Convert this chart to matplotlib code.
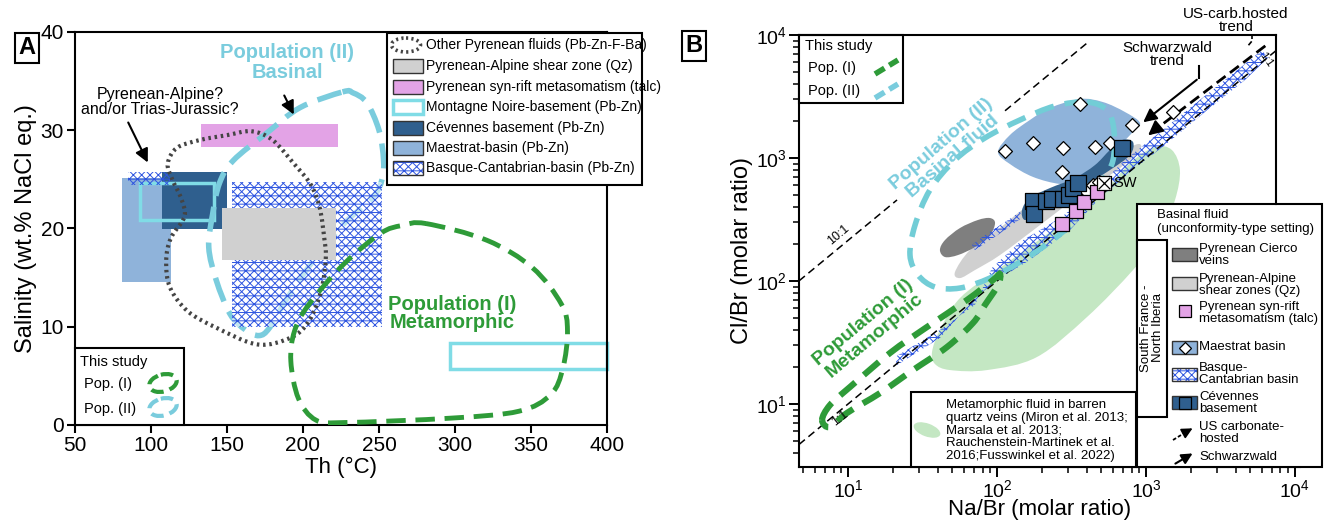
import numpy as np
import matplotlib
matplotlib.use("Agg")
import matplotlib.pyplot as plt
from matplotlib.path import Path
from matplotlib.patches import PathPatch, Rectangle, Ellipse, Polygon

plt.rcParams['font.family'] = ['Liberation Sans', 'DejaVu Sans']
plt.rcParams['hatch.linewidth'] = 0.7
plt.rcParams['mathtext.fontset'] = 'custom'
plt.rcParams['mathtext.rm'] = 'Liberation Sans'
plt.rcParams['mathtext.it'] = 'Liberation Sans:italic'
plt.rcParams['mathtext.bf'] = 'Liberation Sans:bold'

HATCH = 'xxxx--'

# ======================= PANEL A data (Th degC, salinity wt.% NaCl eq.) =======================
th_ticks = [50, 100, 150, 200, 250, 300, 350, 400]
sal_ticks = [0, 10, 20, 30, 40]
# rectangles: (Th min, salinity min, Th max, salinity max)
maestrat_A = (81, 14.6, 113, 25.1)
cevennes_A = (107, 20.0, 150, 25.7)
montagne_A1 = (92.5, 20.9, 141.5, 24.6)
montagne_A2 = (297, 5.7, 400, 8.3)
basque_A1 = (85, 24.4, 114, 25.7)
basque_A2 = (153.5, 10.0, 252, 24.7)
shear_A = (147, 16.8, 222, 22.1)
talc_A = (133, 28.3, 223, 30.6)
# closed outlines
other_pyr_th = [166, 180, 194, 205, 211, 214, 215, 212, 204, 192, 170, 143, 124, 112.5, 110, 113, 122, 120, 114, 111, 117, 132, 150]
other_pyr_sal = [29.9, 29, 26.6, 24.5, 22.1, 19, 17, 13.7, 10.6, 8.9, 8.2, 9.9, 11.6, 14, 16.7, 19, 21.2, 23, 25, 26.6, 28.2, 29, 29.5]
popII_A_th = [226, 233, 242, 250, 253, 252, 246, 227, 208.5, 190, 178, 171, 162, 152, 143, 138, 140.6, 145, 154, 176, 198]
popII_A_sal = [33.9, 33.8, 32.8, 30, 27, 25, 23.2, 20.5, 17.1, 13, 9.9, 9.1, 9.7, 11.3, 14.7, 18.1, 21.5, 24.6, 26.9, 29.7, 32.3]
popI_A_th = [281, 321, 351, 370, 374, 371, 363, 342, 297.5, 227, 208.5, 197, 192, 194.5, 204, 227, 251, 265]
popI_A_sal = [20.5, 18.8, 16, 12.3, 9.6, 5.8, 3.1, 1.4, 0.7, 0.25, 0.5, 2.7, 6.5, 9.6, 12.3, 16.4, 19.5, 20.3]

# ======================= PANEL B data (log10 Na/Br, log10 Cl/Br) =======================
logB_ticks = [1, 2, 3, 4]
meta_field_u = [1.564, 1.617, 1.752, 2.020, 2.356, 2.691, 2.893, 3.060, 3.174, 3.228, 3.195, 3.094, 2.913, 2.604, 2.268, 1.933, 1.685, 1.584]
meta_field_v = [1.423, 1.602, 1.862, 2.106, 2.398, 2.699, 2.959, 3.089, 3.065, 2.902, 2.659, 2.374, 2.089, 1.707, 1.382, 1.276, 1.276, 1.325]
cierco_u = [1.617, 1.651, 1.752, 1.872, 1.953, 1.987, 1.953, 1.852, 1.738, 1.651]
cierco_v = [2.252, 2.333, 2.431, 2.496, 2.512, 2.472, 2.374, 2.276, 2.211, 2.195]
shear_u = [1.718, 1.819, 2.020, 2.188, 2.423, 2.691, 2.926, 2.960, 2.826, 2.557, 2.289, 2.020, 1.852, 1.752]
shear_v = [2.073, 2.252, 2.431, 2.593, 2.740, 2.919, 3.106, 3.065, 2.919, 2.699, 2.455, 2.211, 2.089, 2.024]
maestrat_field_u = [2.007, 2.087, 2.221, 2.356, 2.557, 2.711, 2.859, 2.960, 2.906, 2.812, 2.691, 2.557, 2.423, 2.242, 2.087]
maestrat_field_v = [3.049, 3.187, 3.309, 3.407, 3.480, 3.455, 3.374, 3.285, 3.203, 3.081, 2.902, 2.805, 2.789, 2.846, 2.951]
cevennes_field_u = [2.168, 2.221, 2.356, 2.523, 2.658, 2.758, 2.839, 2.913, 2.893, 2.758, 2.591, 2.423, 2.289, 2.188]
cevennes_field_v = [2.577, 2.675, 2.756, 2.837, 2.943, 3.065, 3.146, 3.130, 3.024, 2.902, 2.780, 2.675, 2.561, 2.496]
basque_small_u = [1.832, 1.919, 2.054, 2.154, 2.174, 2.074, 1.953, 1.852]
basque_small_v = [2.293, 2.374, 2.480, 2.561, 2.520, 2.431, 2.333, 2.252]
basque_strip_u = [1.315, 1.617, 1.852, 1.966, 2.154, 2.423, 2.624, 2.859, 3.094, 3.362, 3.631, 3.779,
                  3.819, 3.664, 3.396, 3.128, 2.893, 2.691, 2.490, 2.221, 2.020, 1.852, 1.617, 1.329]
basque_strip_v = [1.382, 1.602, 1.805, 2.106, 2.317, 2.512, 2.699, 2.984, 3.211, 3.472, 3.732, 3.878,
                  3.813, 3.634, 3.374, 3.106, 2.886, 2.675, 2.415, 2.171, 2.024, 1.862, 1.537, 1.317]
popII_B_u = [2.604, 2.738, 2.785, 2.779, 2.711, 2.591, 2.490, 2.356, 2.154, 1.953, 1.752, 1.584, 1.470, 1.416, 1.450, 1.550, 1.718, 1.919, 2.154, 2.389]
popII_B_v = [3.455, 3.390, 3.228, 2.984, 2.821, 2.618, 2.455, 2.317, 2.154, 2.024, 1.943, 1.951, 2.049, 2.211, 2.455, 2.740, 2.984, 3.163, 3.309, 3.423]
popI_B_u = [0.826, 0.879, 1.013, 1.282, 1.530, 1.799, 1.973, 2.020, 2.007, 1.919, 1.839, 1.664, 1.436, 1.215, 0.993, 0.879]
popI_B_v = [0.870, 0.992, 1.138, 1.415, 1.626, 1.846, 2.008, 2.057, 1.967, 1.805, 1.659, 1.463, 1.276, 1.089, 0.927, 0.813]
# data points
maestrat_pts_u = [2.054, 2.242, 2.443, 2.658, 2.758, 2.557, 2.906, 2.436, 3.181, 2.604, 2.644, 2.685]
maestrat_pts_v = [3.057, 3.122, 3.081, 3.089, 3.122, 3.439, 3.268, 2.886, 3.374, 2.724, 2.780, 2.805]
cevennes_pts_u = [2.242, 2.248, 2.329, 2.369, 2.443, 2.483, 2.510, 2.544, 2.839]
cevennes_pts_v = [2.650, 2.545, 2.650, 2.667, 2.667, 2.699, 2.756, 2.797, 3.081]
talc_pts_u = [2.436, 2.530, 2.584, 2.671]
talc_pts_v = [2.463, 2.569, 2.642, 2.724]
sw_u, sw_v = 2.718, 2.797
# reference lines
line_1to1_u = [0.671, 3.88]
line_10to1_u = [[0.671, 1.329], [2.054, 2.600]]
line_10to1_offset = 1.33
us_carb_u = [3.03, 3.81]
us_carb_v = [3.20, 3.92]

# ======================= colours =======================
C_CYAN = '#7ACCDD'
C_CYAN_B = '#72CDD6'
C_GREEN = '#2E9B38'
C_MN = '#80DCE6'
C_CEV = '#2F5F8E'
C_MAE = '#8FB3DA'
C_GREY = '#D0D0D0'
C_PINK = '#E3A3E6'
C_DARKGREY = '#7F7F7F'
C_META = '#C4E7C3'
C_HATCH = '#2E55E0'
C_DOT = '#444444'

W, H = 1326, 521
fig = plt.figure(figsize=(W / 100, H / 100), dpi=100)


def box(l, t, r, b):
    return [l / W, 1 - b / H, (r - l) / W, (b - t) / H]


def smooth_path(xs, ys):
    P = np.column_stack([xs, ys]).astype(float)
    n = len(P)
    verts = [P[0]]
    codes = [Path.MOVETO]
    for i in range(n):
        p0, p1, p2, p3 = P[(i - 1) % n], P[i], P[(i + 1) % n], P[(i + 2) % n]
        verts += [p1 + (p2 - p0) / 6, p2 - (p3 - p1) / 6, p2]
        codes += [Path.CURVE4] * 3
    verts.append(P[0])
    codes.append(Path.CLOSEPOLY)
    return Path(verts, codes)


def rect(ax, r, **kw):
    return ax.add_patch(Rectangle((r[0], r[1]), r[2] - r[0], r[3] - r[1], **kw))


# ======================= PANEL A =======================
axA = fig.add_axes(box(75, 32, 607, 425))
axA.set_xlim(50, 400)
axA.set_ylim(0, 40)
axA.set_xticks(th_ticks)
axA.set_yticks(sal_ticks)
axA.tick_params(direction='out', length=6, width=1.5, labelsize=15, pad=2)
for s in axA.spines.values():
    s.set_linewidth(1.5)
axA.set_xlabel('Th (°C)', fontsize=16, labelpad=1)
axA.set_ylabel('Salinity (wt.% NaCl eq.)', fontsize=17)
axA.yaxis.set_label_coords(-0.072, 0.5)

rect(axA, maestrat_A, facecolor=C_MAE, edgecolor='none', zorder=1)
rect(axA, cevennes_A, facecolor=C_CEV, edgecolor='none', zorder=1.5)
rect(axA, montagne_A1, facecolor='none', edgecolor=C_MN, lw=2.5, zorder=2)
rect(axA, montagne_A2, facecolor='none', edgecolor=C_MN, lw=2.5, zorder=2, clip_on=False)
rect(axA, basque_A1, facecolor='none', edgecolor=C_HATCH, hatch=HATCH, lw=0, zorder=2)
rect(axA, talc_A, facecolor=C_PINK, edgecolor='none', zorder=2)
axA.add_patch(PathPatch(smooth_path(popII_A_th, popII_A_sal), facecolor='none', edgecolor=C_CYAN,
                        lw=4, linestyle=(0, (4.5, 2)), zorder=3))
rect(axA, basque_A2, facecolor=(1, 1, 1, 0.55), edgecolor=C_HATCH, hatch=HATCH, lw=0, zorder=4)
rect(axA, shear_A, facecolor=C_GREY, edgecolor='none', zorder=5)
axA.add_patch(PathPatch(smooth_path(other_pyr_th, other_pyr_sal), facecolor='none', edgecolor=C_DOT,
                        lw=3, linestyle=(0, (0.6, 0.9)), zorder=6))
axA.add_patch(PathPatch(smooth_path(popI_A_th, popI_A_sal), facecolor='none', edgecolor=C_GREEN,
                        lw=3.5, linestyle=(0, (4, 2)), zorder=6))

# ======================= PANEL B =======================
axB = fig.add_axes(box(799, 35, 1300, 467))
axB.set_xlim(0.671, 4.034)
axB.set_ylim(0.488, 4.0)
axB.set_xticks(logB_ticks)
axB.set_yticks(logB_ticks)
axB.set_xticklabels([r'$10^{%d}$' % t for t in logB_ticks])
axB.set_yticklabels([r'$10^{%d}$' % t for t in logB_ticks])
minor = [d + np.log10(k) for d in range(0, 5) for k in range(2, 10)]
axB.set_xticks([m for m in minor if 0.671 <= m <= 4.034], minor=True)
axB.set_yticks([m for m in minor if 0.488 <= m <= 4.0], minor=True)
axB.tick_params(which='major', direction='out', length=7, width=1.4, labelsize=14, pad=2)
axB.tick_params(which='minor', direction='out', length=4, width=1.1)
axB.spines['top'].set_visible(False)
axB.spines['right'].set_visible(False)
for s in ('left', 'bottom'):
    axB.spines[s].set_linewidth(1.5)
axB.set_xlabel('Na/Br (molar ratio)', fontsize=16, labelpad=1)
axB.set_ylabel('Cl/Br (molar ratio)', fontsize=17)
axB.xaxis.set_label_coords(0.48, -0.075)
axB.yaxis.set_label_coords(-0.092, 0.5)

axB.add_patch(PathPatch(smooth_path(meta_field_u, meta_field_v), facecolor=C_META, edgecolor='none', zorder=1))
axB.add_patch(PathPatch(smooth_path(shear_u, shear_v), facecolor=C_GREY, edgecolor='none', zorder=2))
axB.add_patch(PathPatch(smooth_path(cierco_u, cierco_v), facecolor=C_DARKGREY, edgecolor='none', zorder=2.5))
axB.add_patch(PathPatch(smooth_path(maestrat_field_u, maestrat_field_v), facecolor=C_MAE, edgecolor='none', zorder=2))
axB.add_patch(PathPatch(smooth_path(cevennes_field_u, cevennes_field_v), facecolor='#35628C', edgecolor='none', zorder=2.6))
axB.add_patch(Polygon(np.column_stack([basque_small_u, basque_small_v]), closed=True, facecolor='none',
                      edgecolor=C_HATCH, hatch=HATCH, lw=0, zorder=3))
axB.add_patch(Polygon(np.column_stack([basque_strip_u, basque_strip_v]), closed=True, facecolor='none',
                      edgecolor=C_HATCH, hatch=HATCH, lw=0, zorder=3))
# reference lines
axB.plot(line_1to1_u, line_1to1_u, color='k', lw=1.1, linestyle=(0, (5, 3)), zorder=3.5)
for seg in line_10to1_u:
    axB.plot(seg, [s + line_10to1_offset for s in seg], color='k', lw=1.1, linestyle=(0, (5, 3)), zorder=3.5)
axB.plot(us_carb_u, us_carb_v, color='k', lw=2, linestyle=(0, (4, 2)), zorder=3.6)
axB.annotate('', xy=(us_carb_u[0] - 0.03, us_carb_v[0] - 0.03), xytext=(us_carb_u[0] + 0.06, us_carb_v[0] + 0.06),
             arrowprops=dict(arrowstyle='-|>', color='k', lw=1.5, mutation_scale=22), zorder=5)
axB.add_patch(PathPatch(smooth_path(popII_B_u, popII_B_v), facecolor='none', edgecolor=C_CYAN_B,
                        lw=4, linestyle=(0, (3.5, 2)), zorder=4))
axB.add_patch(PathPatch(smooth_path(popI_B_u, popI_B_v), facecolor='none', edgecolor=C_GREEN,
                        lw=4.5, linestyle=(0, (3.2, 1.8)), zorder=4))
axB.scatter(maestrat_pts_u, maestrat_pts_v, marker='D', s=50, facecolor='white', edgecolor='k', lw=0.9, zorder=6)
axB.scatter(cevennes_pts_u, cevennes_pts_v, marker='s', s=120, facecolor=C_CEV, edgecolor='k', lw=0.9, zorder=6)
axB.scatter(talc_pts_u, talc_pts_v, marker='s', s=110, facecolor=C_PINK, edgecolor='k', lw=0.9, zorder=6)
axB.scatter([sw_u], [sw_v], marker='s', s=110, facecolor='white', edgecolor='k', lw=0.9, zorder=6)
axB.scatter([sw_u], [sw_v], marker='x', s=70, color='k', lw=0.9, zorder=7)

# ======================= overlay (pixel coordinates) =======================
ov = fig.add_axes([0, 0, 1, 1], zorder=10)
ov.set_xlim(0, W)
ov.set_ylim(H, 0)
ov.axis('off')

# panel letters
ov.text(27, 48, 'A', fontsize=17, fontweight='bold', ha='center', va='center',
        bbox=dict(boxstyle='square,pad=0.15', facecolor='white', edgecolor='k', lw=1.5))
ov.text(694, 46, 'B', fontsize=17, fontweight='bold', ha='center', va='center',
        bbox=dict(boxstyle='square,pad=0.15', facecolor='white', edgecolor='k', lw=1.5))

# --- Panel A annotations
ov.text(287, 53, 'Population (II)', color=C_CYAN, fontsize=14.5, fontweight='bold', ha='center', va='center')
ov.text(287, 73, 'Basinal', color=C_CYAN, fontsize=14.5, fontweight='bold', ha='center', va='center')
ov.annotate('', xy=(295, 117), xytext=(283, 93),
            arrowprops=dict(arrowstyle='-|>', color='k', lw=1.5, mutation_scale=20))
ov.text(160, 95, 'Pyrenean-Alpine?', fontsize=11.5, ha='center', va='center')
ov.text(160, 110, 'and/or Trias-Jurassic?', fontsize=11.5, ha='center', va='center')
ov.annotate('', xy=(149, 165), xytext=(127, 120),
            arrowprops=dict(arrowstyle='-|>', color='k', lw=1.5, mutation_scale=20))
ov.text(452, 304, 'Population (I)', color=C_GREEN, fontsize=14.5, fontweight='bold', ha='center', va='center')
ov.text(452, 323, 'Metamorphic', color=C_GREEN, fontsize=14.5, fontweight='bold', ha='center', va='center')

# Panel A legend
ov.add_patch(Rectangle((387, 33), 255, 152, facecolor='white', edgecolor='k', lw=1.5, zorder=1))
rowsA = [45, 66, 87, 107, 128, 148, 168]
labelsA = ['Other Pyrenean fluids (Pb-Zn-F-Ba)', 'Pyrenean-Alpine shear zone (Qz)',
           'Pyrenean syn-rift metasomatism (talc)', 'Montagne Noire-basement (Pb-Zn)',
           'Cévennes basement (Pb-Zn)', 'Maestrat-basin (Pb-Zn)', 'Basque-Cantabrian-basin (Pb-Zn)']
ov.add_patch(Ellipse((406, rowsA[0]), 29, 14, facecolor='none', edgecolor=C_DOT, lw=2.6,
                     linestyle=(0, (0.6, 0.9)), zorder=2))
fillsA = [C_GREY, C_PINK, 'white', C_CEV, C_MAE, 'white']
for i, fc in enumerate(fillsA):
    y = rowsA[i + 1]
    if i == 2:
        ov.add_patch(Rectangle((393, y - 7), 30, 14, facecolor='white', edgecolor=C_MN, lw=2.5, zorder=2))
    elif i == 5:
        ov.add_patch(Rectangle((393, y - 7), 30, 14, facecolor='white', edgecolor=C_HATCH, hatch=HATCH, lw=0, zorder=2))
        ov.add_patch(Rectangle((393, y - 7), 30, 14, facecolor='none', edgecolor='#333333', lw=1, zorder=2))
    else:
        ov.add_patch(Rectangle((393, y - 7), 30, 14, facecolor=fc, edgecolor='#333333', lw=1, zorder=2))
for y, lab in zip(rowsA, labelsA):
    ov.text(426, y, lab, fontsize=10, ha='left', va='center', zorder=3)

# Panel A "This study"
ov.add_patch(Rectangle((75, 348), 109, 77, facecolor='white', edgecolor='k', lw=1.5, zorder=1))
ov.text(80, 362, 'This study', fontsize=10.5, ha='left', va='center', zorder=3)
ov.text(84, 384, 'Pop. (I)', fontsize=10.5, ha='left', va='center', zorder=3)
ov.text(84, 409, 'Pop. (II)', fontsize=10.5, ha='left', va='center', zorder=3)
ov.add_patch(Ellipse((163, 383), 28, 17, angle=-15, facecolor='none', edgecolor=C_GREEN, lw=3,
                     linestyle=(0, (3, 1.5)), zorder=2))
ov.add_patch(Ellipse((163, 407), 28, 17, angle=-15, facecolor='none', edgecolor=C_CYAN, lw=3,
                     linestyle=(0, (3, 1.5)), zorder=2))

# --- Panel B frame pieces
ov.plot([799, 1276], [35, 35], color='k', lw=1.5)
ov.plot([1276, 1276], [35, 204], color='k', lw=1.5)

# Panel B annotations
ov.text(947, 150, 'Population (II)\nBasinal fluid', color=C_CYAN, fontsize=14, fontweight='bold',
        ha='center', va='center', rotation=41, linespacing=1.0)
ov.text(869, 329, 'Population (I)\nMetamorphic', color=C_GREEN, fontsize=14, fontweight='bold',
        ha='center', va='center', rotation=40, linespacing=1.0)
ov.text(838, 235, '10:1', fontsize=9, ha='center', va='center', rotation=40)
ov.text(840, 418, '1:1', fontsize=9, ha='center', va='center', rotation=38)
ov.text(1266, 60, '1:1', fontsize=8, ha='center', va='center', rotation=-55)
ov.text(1113, 183, 'SW', fontsize=10.5, ha='left', va='center')
ov.text(1167, 48, 'Schwarzwald', fontsize=11, ha='center', va='center')
ov.text(1167, 61, 'trend', fontsize=11, ha='center', va='center')
ov.plot([1199, 1199], [66, 78], color='k', lw=1.5)
ov.annotate('', xy=(1141, 124), xytext=(1199, 78),
            arrowprops=dict(arrowstyle='-|>', color='k', lw=1.5, mutation_scale=20))
ov.text(1236, 14, 'US-carb.hosted', fontsize=11, ha='center', va='center')
ov.text(1236, 27, 'trend', fontsize=11, ha='center', va='center')
ov.plot([1252, 1252, 1247], [34, 41, 47], color='k', lw=1.2, linestyle=(0, (3, 1.5)))

# Panel B "This study" legend
ov.add_patch(Rectangle((799, 35), 104, 68, facecolor='white', edgecolor='k', lw=1.5, zorder=1))
ov.text(805, 46, 'This study', fontsize=10.5, ha='left', va='center', zorder=3)
ov.text(808, 68, 'Pop. (I)', fontsize=10.5, ha='left', va='center', zorder=3)
ov.text(808, 91, 'Pop. (II)', fontsize=10.5, ha='left', va='center', zorder=3)
ov.plot([875, 898], [74, 60], color=C_GREEN, lw=4, linestyle=(0, (2, 1)), zorder=3)
ov.plot([875, 898], [98, 84], color=C_CYAN, lw=4, linestyle=(0, (2, 1)), zorder=3)

# Panel B right legend
ov.add_patch(Rectangle((1137, 204), 185, 263, facecolor='white', edgecolor='k', lw=1.5, zorder=1))
ov.text(1157, 215, 'Basinal fluid', fontsize=9.5, ha='left', va='center', zorder=3)
ov.text(1157, 229, '(unconformity-type setting)', fontsize=9.5, ha='left', va='center', zorder=3)
ov.add_patch(Rectangle((1137, 240), 30, 177, facecolor='white', edgecolor='k', lw=1.5, zorder=2))
ov.text(1152, 328, 'South France -\nNorth Iberia', fontsize=9.5, ha='center', va='center',
        rotation=90, linespacing=1.0, zorder=3)
px0, pw, ph = 1172, 25, 13
ov.add_patch(Rectangle((px0, 248), pw, ph, facecolor=C_DARKGREY, edgecolor='#333333', lw=1, zorder=2))
ov.add_patch(Rectangle((px0, 277), pw, ph, facecolor=C_GREY, edgecolor='#333333', lw=1, zorder=2))
ov.plot([1184.5], [311], marker='s', ms=8, mfc=C_PINK, mec='k', mew=0.9, zorder=3)
ov.add_patch(Rectangle((px0, 341), pw, ph, facecolor=C_MAE, edgecolor='#333333', lw=1, zorder=2))
ov.plot([1184.5], [347.5], marker='D', ms=6.5, mfc='white', mec='k', mew=0.9, zorder=3)
ov.add_patch(Rectangle((px0, 368), pw, ph, facecolor='white', edgecolor=C_HATCH, hatch=HATCH, lw=0, zorder=2))
ov.add_patch(Rectangle((px0, 368), pw, ph, facecolor='none', edgecolor='#333333', lw=1, zorder=2))
ov.add_patch(Rectangle((px0, 396), pw, ph, facecolor=C_CEV, edgecolor='#333333', lw=1, zorder=2))
ov.plot([1184.5], [402.5], marker='s', ms=8, mfc=C_CEV, mec='k', mew=0.9, zorder=3)
ov.plot([1173, 1186], [440, 432], color='k', lw=1.3, linestyle=(0, (2, 1.2)), zorder=3)
ov.annotate('', xy=(1195, 427), xytext=(1184, 433),
            arrowprops=dict(arrowstyle='-|>', color='k', lw=1.2, mutation_scale=16), zorder=3)
ov.annotate('', xy=(1195, 452), xytext=(1173, 465),
            arrowprops=dict(arrowstyle='-|>', color='k', lw=1.5, mutation_scale=16), zorder=3)
legB = [(255, 'Pyrenean Cierco\nveins'), (285, 'Pyrenean-Alpine\nshear zones (Qz)'),
        (313, 'Pyrenean syn-rift\nmetasomatism (talc)'), (347, 'Maestrat basin'),
        (374, 'Basque-\nCantabrian basin'), (403, 'Cévennes\nbasement'),
        (433, 'US carbonate-\nhosted'), (457, 'Schwarzwald')]
for y, lab in legB:
    ov.text(1199, y, lab, fontsize=9.5, ha='left', va='center', linespacing=0.95, zorder=3)

# Panel B bottom legend
ov.add_patch(Rectangle((911, 392), 225, 75, facecolor='white', edgecolor='k', lw=1.5, zorder=1))
ov.add_patch(Ellipse((927, 430), 28, 13, angle=20, facecolor=C_META, edgecolor='none', zorder=2))
metaLines = ['Metamorphic fluid in barren', 'quartz veins (Miron et al. 2013;', 'Marsala et al. 2013;',
             'Rauchenstein-Martinek et al.', '2016;Fusswinkel et al. 2022)']
for i, t in enumerate(metaLines):
    ov.text(946, 405 + i * 12.7, t, fontsize=9.5, ha='left', va='center', zorder=3)

fig.savefig('out.png', dpi=100)
